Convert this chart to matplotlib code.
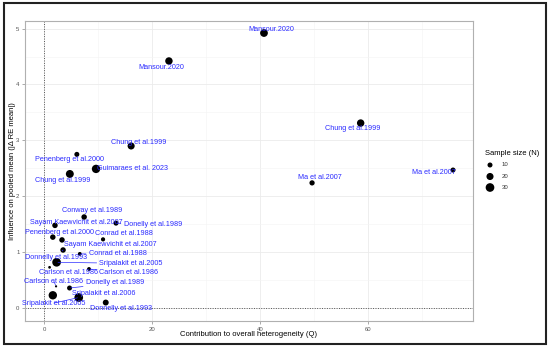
# Influence vs heterogeneity plot (Baujat-like)

import matplotlib.pyplot as plt
from matplotlib.patches import Rectangle

plt.rcParams['font.family'] = ['Liberation Sans', 'DejaVu Sans']

studies = ['Mansour.2020', 'Mansour.2020', 'Chung et al.1999', 'Ma et al.2007',
           'Ma et al.2007', 'Chung et al.1999', 'Penenberg et al.2000',
           'Guimaraes et al. 2023', 'Chung et al.1999', 'Conway et al.1989',
           'Sayam Kaewvichit et al.2007', 'Donelly et al.1989', 'Penenberg et al.2000',
           'Conrad et al.1988', 'Sayam Kaewvichit et al.2007', 'Conrad et al.1988',
           'Donnelly et al.1993', 'Sripalakit et al.2005', 'Carlson et al.1986',
           'Carlson et al.1986', 'Carlson et al.1986', 'Donelly et al.1989',
           'Sripalakit et al.2006', 'Sripalakit et al.2005', 'Donnelly et al.1993']
q_contrib = [40.7, 23.1, 58.6, 75.7, 49.6, 16.1, 6.05, 9.6, 4.75, 7.4,
             2.0, 13.3, 1.6, 10.9, 3.3, 6.6, 3.5, 2.3, 1.0, 8.3,
             2.2, 4.7, 1.6, 6.4, 11.4]
influence = [4.92, 4.42, 3.31, 2.47, 2.24, 2.90, 2.75, 2.49, 2.40, 1.63,
             1.48, 1.52, 1.27, 1.23, 1.22, 0.97, 1.04, 0.82, 0.73, 0.70,
             0.39, 0.36, 0.23, 0.19, 0.10]
sample_n = [24, 22, 22, 10, 11, 20, 10, 28, 25, 12,
            12, 10, 12, 7, 12, 6, 12, 30, 3, 6,
            2, 10, 28, 30, 14]

# label placement (ggrepel result)
label_x = [42.1, 21.6, 57.2, 72.2, 51.0, 17.5, 4.6, 16.4, 3.5, 8.8,
           5.9, 20.1, 2.9, 14.8, 12.2, 13.6, 2.2, 16.1, 4.6, 15.7,
           1.8, 13.1, 11.1, 1.8, 14.2]
label_y = [4.99, 4.31, 3.22, 2.43, 2.33, 2.97, 2.65, 2.49, 2.29, 1.74,
           1.54, 1.50, 1.36, 1.34, 1.14, 0.97, 0.91, 0.80, 0.64, 0.63,
           0.48, 0.45, 0.27, 0.09, 0.0]
segment = [False, False, False, False, False, False, False, False, False, False,
           False, True, False, False, False, True, True, True, False, True,
           True, True, False, True, False]

label_col = '#2b2bff'

fig = plt.figure(figsize=(5.5, 3.48), dpi=100)
ax = fig.add_axes([25 / 550, 1 - 321 / 348, 448 / 550, 300 / 348])

ax.set_xlim(-3.55, 79.4)
ax.set_ylim(-0.23, 5.135)

ax.set_xticks([0, 20, 40, 60])
ax.set_xticks([10, 30, 50, 70], minor=True)
ax.set_yticks([0, 1, 2, 3, 4, 5])
ax.set_yticks([0.5, 1.5, 2.5, 3.5, 4.5], minor=True)
ax.grid(True, which='major', color='#ebebeb', lw=0.6)
ax.grid(True, which='minor', color='#f4f4f4', lw=0.4)
ax.set_axisbelow(True)
for s in ax.spines.values():
    s.set_color('#b0b0b0')
    s.set_linewidth(0.8)
ax.tick_params(which='major', length=2, width=0.5, color='#888888',
               labelsize=4.3, labelcolor='#555555', pad=2)
ax.tick_params(which='minor', length=0)

ax.axvline(0, color='#555555', ls=(0, (1, 1.5)), lw=0.7, zorder=1)
ax.axhline(0, color='#555555', ls=(0, (1, 1.5)), lw=0.7, zorder=1)

ax.scatter(q_contrib, influence, s=[1.3 * n for n in sample_n], c='black',
           linewidths=0, zorder=3)

for i in range(len(studies)):
    if segment[i]:
        ax.annotate(studies[i], xy=(q_contrib[i], influence[i]),
                    xytext=(label_x[i], label_y[i]), ha='center', va='center',
                    fontsize=5.2, color=label_col, zorder=4,
                    arrowprops=dict(arrowstyle='-', color=label_col, lw=0.5,
                                    shrinkA=0, shrinkB=1))
    else:
        ax.text(label_x[i], label_y[i], studies[i], ha='center', va='center',
                fontsize=5.2, color=label_col, zorder=4)

ax.set_xlabel('Contribution to overall heterogeneity (Q)', fontsize=5.5)
ax.set_ylabel('Influence on pooled mean (|Δ RE mean|)', fontsize=5.5)
ax.xaxis.set_label_coords(0.5, -0.033)
ax.yaxis.set_label_coords(-0.019, 0.5)

# legend for sample size
fig.text(485 / 550, 1 - 153 / 348, 'Sample size (N)', fontsize=5.5, va='center')
for n, py in zip([10, 20, 30], [165, 176.5, 187.5]):
    fig.text(502 / 550, 1 - py / 348, str(n), fontsize=4.3, color='#333333', va='center')
leg_ax = fig.add_axes([480 / 550, 1 - 195 / 348, 20 / 550, 40 / 348])
leg_ax.set_xlim(0, 20)
leg_ax.set_ylim(195, 155)
leg_ax.axis('off')
leg_ax.scatter([10, 10, 10], [165, 176.5, 187.5], s=[1.3 * n for n in [10, 20, 30]],
               c='black', linewidths=0)

fig.patches.append(Rectangle((4 / 550, 1 - 344 / 348), 542 / 550, 341 / 348,
                             transform=fig.transFigure, fill=False,
                             edgecolor='#222222', lw=1.5))

fig.savefig('out.png', dpi=100)
